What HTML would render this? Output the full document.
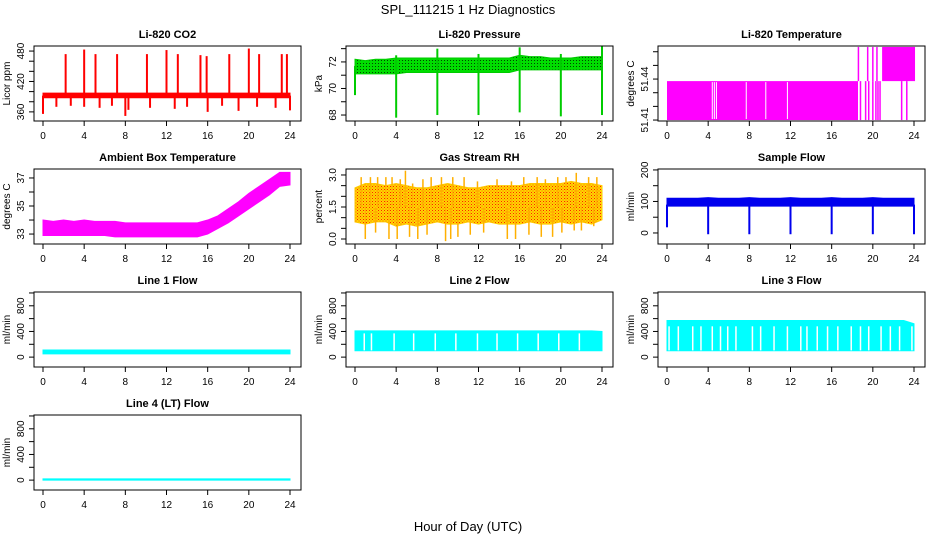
<!DOCTYPE html>
<html><head><meta charset="utf-8">
<style>
html,body{margin:0;padding:0;background:#fff;}
svg{display:block;font-family:"Liberation Sans",Arial,sans-serif;}
</style></head>
<body>
<svg id="chart" width="936" height="540" viewBox="0 0 936 540">
<defs>
<pattern id="reddots" width="3" height="3" patternUnits="userSpaceOnUse"><rect width="3" height="3" fill="#ffd700"/><rect x="0" y="0" width="1" height="1" fill="#ff2000"/><rect x="1.5" y="1.5" width="1" height="1" fill="#ff6000"/></pattern>
<pattern id="greendots" width="3" height="3" patternUnits="userSpaceOnUse"><rect width="3" height="3" fill="#00dd00"/><rect x="0" y="0" width="1" height="1" fill="#004400"/></pattern>
</defs>
<text x="468" y="14" text-anchor="middle" font-size="13">SPL_111215  1 Hz Diagnostics</text>
<text x="468" y="531" text-anchor="middle" font-size="13">Hour of Day (UTC)</text>
</svg>
<script>
const xTicks = [0,4,8,12,16,20,24];
const hours = [0,1,2,3,4,5,6,7,8,9,10,11,12,13,14,15,16,17,18,19,20,21,22,23,24];

const co2Lo = [388,388,388,388,388,388,388,388,388,388,388,388,388,388,388,388,388,388,388,388,388,388,388,388,388];
const co2Hi = [397,397,397,397,397,397,397,397,397,397,397,397,397,397,397,397,397,397,397,397,397,397,397,397,397];
const co2SpikeT = [2.2,4.0,5.1,7.2,10.1,12.0,13.1,15.3,15.9,18.1,20.0,21.0,23.2,23.7,0.0,1.3,2.7,4.0,5.5,6.7,8.0,8.3,10.4,12.8,14.0,16.0,17.4,19.0,20.8,22.6,24.0];
const co2SpikeV = [474,483,474,474,474,482,474,472,470,474,485,474,474,474,356,370,372,370,368,372,352,364,368,366,370,360,372,362,370,368,363];

const presLo = [71.1,71.1,71.1,71.1,71.1,71.2,71.2,71.2,71.2,71.2,71.2,71.2,71.2,71.2,71.2,71.2,71.4,71.4,71.4,71.4,71.4,71.4,71.4,71.4,71.4];
const presHi = [72.2,72.1,72.2,72.2,72.3,72.3,72.3,72.3,72.3,72.3,72.3,72.3,72.3,72.3,72.3,72.3,72.5,72.4,72.4,72.3,72.3,72.3,72.4,72.4,72.4];
const presSpikeT = [0.0,4.0,8.0,12.0,16.0,20.0,24.0,4.0,8.0,12.0,16.0,20.0,24.0];
const presSpikeV = [69.5,67.8,68.0,68.0,68.2,67.9,68.0,72.5,73.0,72.6,73.1,72.6,73.2];

const ltLowBlockEnd = 18.56;
const ltLevels = [51.41,51.4385,51.4635];
const ltGapT = [4.4,4.6,4.8,7.7,9.6,11.7];
const ltLineT = [18.8,19.3,19.6,20.0,20.3,20.5,20.7,22.8,23.3];
const ltHighStart = 20.9, ltHighEnd = 24.1;
const ltHighLineT = [18.6,19.5,20.0,20.4];

const ambLo = [32.9,32.9,32.9,32.9,32.9,32.9,32.9,32.8,32.8,32.8,32.8,32.8,32.8,32.8,32.8,32.8,33.0,33.4,33.8,34.3,34.8,35.3,35.8,36.4,36.5];
const ambHi = [34.0,33.9,34.0,33.9,34.0,33.9,33.9,33.9,33.8,33.8,33.8,33.8,33.8,33.8,33.8,33.8,34.0,34.3,34.8,35.3,35.9,36.4,36.9,37.4,37.4];

const rhLo = [0.8,0.7,0.8,0.8,0.6,0.7,0.6,0.7,0.8,0.7,0.7,0.8,0.7,0.8,0.7,0.7,0.7,0.8,0.7,0.7,0.8,0.7,0.8,0.7,0.9];
const rhHi = [2.4,2.6,2.6,2.5,2.6,2.5,2.4,2.4,2.5,2.6,2.5,2.4,2.4,2.5,2.5,2.5,2.5,2.6,2.6,2.6,2.6,2.7,2.6,2.6,2.5];
const rhSpikeT = [0.6,1.5,2.2,3.0,3.6,4.4,4.9,5.6,6.6,7.4,8.4,9.5,10.6,11.9,13.8,15.2,16.4,17.7,18.5,19.7,20.5,21.5,22.7,23.5,1.0,2.0,3.3,4.1,5.3,6.1,7.0,8.8,9.3,10.0,11.2,12.5,14.8,15.6,16.9,18.1,19.2,20.1,21.3,22.0,23.2];
const rhSpikeV = [2.9,2.9,2.9,2.9,2.9,2.8,3.2,2.6,2.8,2.9,2.9,2.9,2.9,2.7,2.8,2.7,2.9,2.9,2.8,2.9,2.9,3.1,2.9,2.9,0.0,0.3,0.0,0.0,0.1,0.0,0.2,-0.1,0.0,0.1,0.2,0.3,0.0,0.0,0.2,0.1,0.1,0.3,0.4,0.4,0.6];

const sfLo = [85,85,85,85,85,85,85,85,85,85,85,85,85,85,85,85,85,85,85,85,85,85,85,85,85];
const sfHi = [110,110,110,110,112,110,110,110,112,110,110,110,112,110,110,110,112,110,110,110,112,110,110,110,110];
const sfSpikeT = [0.0,4.0,8.0,12.0,16.0,20.0,24.0];
const sfSpikeV = [18,-4,-4,-4,-4,-4,-4];

const l1Lo = [50,50,50,50,50,50,50,50,50,50,50,50,50,50,50,50,50,50,50,50,50,50,50,50,50];
const l1Hi = [110,110,110,110,110,110,110,110,110,110,110,110,110,110,110,110,110,110,110,110,110,110,110,110,110];
const l2Lo = [100,100,100,100,100,100,100,100,100,100,100,100,100,100,100,100,100,100,100,100,100,100,100,100,100];
const l2Hi = [410,410,410,410,410,410,410,410,410,410,410,410,410,410,410,410,410,410,410,410,410,410,410,410,400];
const l2GapT = [0.9,1.6,3.8,5.7,7.8,9.8,11.9,13.8,15.8,17.8,19.8,21.8];
const l3Lo = [100,100,100,100,100,100,100,100,100,100,100,100,100,100,100,100,100,100,100,100,100,100,100,100,100];
const l3Hi = [570,570,570,570,570,570,570,570,570,570,570,570,570,570,570,570,570,570,570,570,570,570,570,570,520];
const l3GapT = [0.2,1.1,2.5,3.3,4.4,5.2,5.9,6.7,8.3,9.1,10.4,11.7,13.0,13.6,14.6,15.6,16.6,17.9,18.8,19.6,20.8,21.7,22.6,23.8];
const l4Lo = [0,0,0,0,0,0,0,0,0,0,0,0,0,0,0,0,0,0,0,0,0,0,0,0,0];
const l4Hi = [20,20,20,20,20,20,20,20,20,20,20,20,20,20,20,20,20,20,20,20,20,20,20,20,20];

const svg = document.getElementById('chart');
const NS = 'http://www.w3.org/2000/svg';
const colX = [34,346,658], rowY = [46,169,292,415], BW = 267, BH = 75;
function mk(tag, attrs, parent){ const e=document.createElementNS(NS,tag); for(const k in attrs) e.setAttribute(k,attrs[k]); (parent||svg).appendChild(e); return e; }

function panel(p){
  const L=colX[p.col], T=rowY[p.row], R=L+BW, B=T+BH;
  const g = mk('g',{});
  
  
  const sx = h => L+9+h*(247/24);
  const sy = v => B-(v-p.ylim[0])/(p.ylim[1]-p.ylim[0])*BH;
  p.draw(g,sx,sy);
  const box = mk('rect',{x:L,y:T,width:BW,height:BH,fill:'none',stroke:'#000','stroke-width':1},g);
  
  
  const t = mk('text',{x:L+BW/2,y:T-8,'text-anchor':'middle','font-size':11,'font-weight':'bold'},g);
  t.textContent = p.title;
  
  
  mk('line',{x1:sx(0),x2:sx(24),y1:B,y2:B,stroke:'#000'},g);
  xTicks.forEach(h=>{
    mk('line',{x1:sx(h),x2:sx(h),y1:B,y2:B+5,stroke:'#000'},g);
    const tx = mk('text',{x:sx(h),y:B+18,'text-anchor':'middle','font-size':10},g);
    tx.textContent = h;
    
    
  });
  p.yticks.forEach(v=>{
    const y=sy(v);
    mk('line',{x1:L-5,x2:L,y1:y,y2:y,stroke:'#000'},g);
  });
  p.ylabels.forEach((v,i)=>{
    const y=sy(v);
    const tx = mk('text',{x:L-10,y:y,'text-anchor':'middle','font-size':10,transform:`rotate(-90 ${L-10} ${y})`},g);
    tx.textContent = p.ylabelText[i];
    
    
  });
  const yt = mk('text',{x:L-24,y:(T+B)/2,'text-anchor':'middle','font-size':10,transform:`rotate(-90 ${L-24} ${(T+B)/2})`},g);
  yt.textContent = p.ylab;
  
  
}

function band(g,sx,sy,lo,hi,fill,name){
  let pts = hours.map((h,i)=>sx(h)+','+sy(hi[i]));
  pts = pts.concat(hours.slice().reverse().map((h,j)=>sx(h)+','+sy(lo[hours.length-1-j])));
  const e = mk('polygon',{points:pts.join(' '),fill:fill,stroke:fill==='url(#reddots)'?'#ffc800':(fill.startsWith('url')?'#00cc00':fill),'stroke-width':1},g);
  
  
}
function spikes(g,sx,sy,ts,vs,base,color,w,name){
  ts.forEach((t,i)=>{
    const e = mk('line',{x1:sx(t),x2:sx(t),y1:sy(base),y2:sy(vs[i]),stroke:color,'stroke-width':w},g);
    
    
  });
}

panel({name:'co2-panel',col:0,row:0,title:'Li-820 CO2',ylab:'Licor ppm',ylim:[342,490],yticks:[360,380,400,420,440,460,480],ylabels:[360,420,480],ylabelText:['360','420','480'],
  draw:(g,sx,sy)=>{ band(g,sx,sy,co2Lo,co2Hi,'#ff0000','co2-band'); spikes(g,sx,sy,co2SpikeT,co2SpikeV,392,'#ff0000',2,'co2-spike'); }});
panel({name:'pressure-panel',col:1,row:0,title:'Li-820 Pressure',ylab:'kPa',ylim:[67.55,73.2],yticks:[68,69,70,71,72,73],ylabels:[68,70,72],ylabelText:['68','70','72'],
  draw:(g,sx,sy)=>{ band(g,sx,sy,presLo,presHi,'url(#greendots)','pressure-band'); spikes(g,sx,sy,presSpikeT,presSpikeV,71.7,'#00cc00',2,'pressure-spike'); }});
panel({name:'li820-temperature-panel',col:2,row:0,title:'Li-820 Temperature',ylab:'degrees C',ylim:[51.4093,51.4642],yticks:[51.41,51.42,51.43,51.44,51.45,51.46],ylabels:[51.41,51.44],ylabelText:['51.41','51.44'],
  draw:(g,sx,sy)=>{
    const r1=mk('rect',{x:sx(0),y:sy(ltLevels[1]),width:sx(ltLowBlockEnd)-sx(0),height:sy(ltLevels[0])-sy(ltLevels[1]),fill:'#ff00ff'},g);
     
    const r2=mk('rect',{x:sx(ltHighStart),y:sy(ltLevels[2]),width:sx(ltHighEnd)-sx(ltHighStart),height:sy(ltLevels[1])-sy(ltLevels[2]),fill:'#ff00ff'},g);
     
    ltGapT.forEach(t=>{ const e=mk('line',{x1:sx(t),x2:sx(t),y1:sy(ltLevels[1])+1,y2:sy(ltLevels[0])-1,stroke:'#fff','stroke-width':1},g);
        });
    spikes(g,sx,sy,ltLineT,ltLineT.map(()=>ltLevels[0]),ltLevels[1],'#ff00ff',1.5,'temp-line');
    spikes(g,sx,sy,ltHighLineT,ltHighLineT.map(()=>ltLevels[2]),ltLevels[1],'#ff00ff',1.5,'temp-line');
  }});
panel({name:'ambient-temperature-panel',col:0,row:1,title:'Ambient Box Temperature',ylab:'degrees C',ylim:[32.29,37.64],yticks:[33,34,35,36,37],ylabels:[33,35,37],ylabelText:['33','35','37'],
  draw:(g,sx,sy)=>{ band(g,sx,sy,ambLo,ambHi,'#ff00ff','ambient-band'); }});
panel({name:'rh-panel',col:1,row:1,title:'Gas Stream RH',ylab:'percent',ylim:[-0.234,3.28],yticks:[0,0.5,1,1.5,2,2.5,3],ylabels:[0,1.5,3],ylabelText:['0.0','1.5','3.0'],
  draw:(g,sx,sy)=>{ band(g,sx,sy,rhLo,rhHi,'url(#reddots)','rh-band'); spikes(g,sx,sy,rhSpikeT,rhSpikeV,1.5,'#ffb000',1.5,'rh-spike'); }});
panel({name:'sample-flow-panel',col:2,row:1,title:'Sample Flow',ylab:'ml/min',ylim:[-35,203],yticks:[0,50,100,150,200],ylabels:[0,100,200],ylabelText:['0','100','200'],
  draw:(g,sx,sy)=>{ band(g,sx,sy,sfLo,sfHi,'#0000ee','sample-flow-band'); spikes(g,sx,sy,sfSpikeT,sfSpikeV,90,'#0000ee',2,'sample-flow-dip'); }});
const flowTicks=[0,200,400,600,800,1000];
panel({name:'line1-flow-panel',col:0,row:2,title:'Line 1 Flow',ylab:'ml/min',ylim:[-154,1015],yticks:flowTicks,ylabels:[0,400,800],ylabelText:['0','400','800'],
  draw:(g,sx,sy)=>{ band(g,sx,sy,l1Lo,l1Hi,'#00ffff','line1-band'); }});
panel({name:'line2-flow-panel',col:1,row:2,title:'Line 2 Flow',ylab:'ml/min',ylim:[-154,1015],yticks:flowTicks,ylabels:[0,400,800],ylabelText:['0','400','800'],
  draw:(g,sx,sy)=>{ band(g,sx,sy,l2Lo,l2Hi,'#00ffff','line2-band');
    spikes(g,sx,sy,l2GapT,l2GapT.map(()=>105),370,'#ffffff',1.5,'line2-gap'); }});
panel({name:'line3-flow-panel',col:2,row:2,title:'Line 3 Flow',ylab:'ml/min',ylim:[-154,1015],yticks:flowTicks,ylabels:[0,400,800],ylabelText:['0','400','800'],
  draw:(g,sx,sy)=>{ band(g,sx,sy,l3Lo,l3Hi,'#00ffff','line3-band');
    spikes(g,sx,sy,l3GapT,l3GapT.map(()=>105),480,'#ffffff',1.5,'line3-gap'); }});
panel({name:'line4-flow-panel',col:0,row:3,title:'Line 4 (LT) Flow',ylab:'ml/min',ylim:[-154,1015],yticks:flowTicks,ylabels:[0,400,800],ylabelText:['0','400','800'],
  draw:(g,sx,sy)=>{ band(g,sx,sy,l4Lo,l4Hi,'#00ffff','line4-band'); }});
</script>
</body></html>
